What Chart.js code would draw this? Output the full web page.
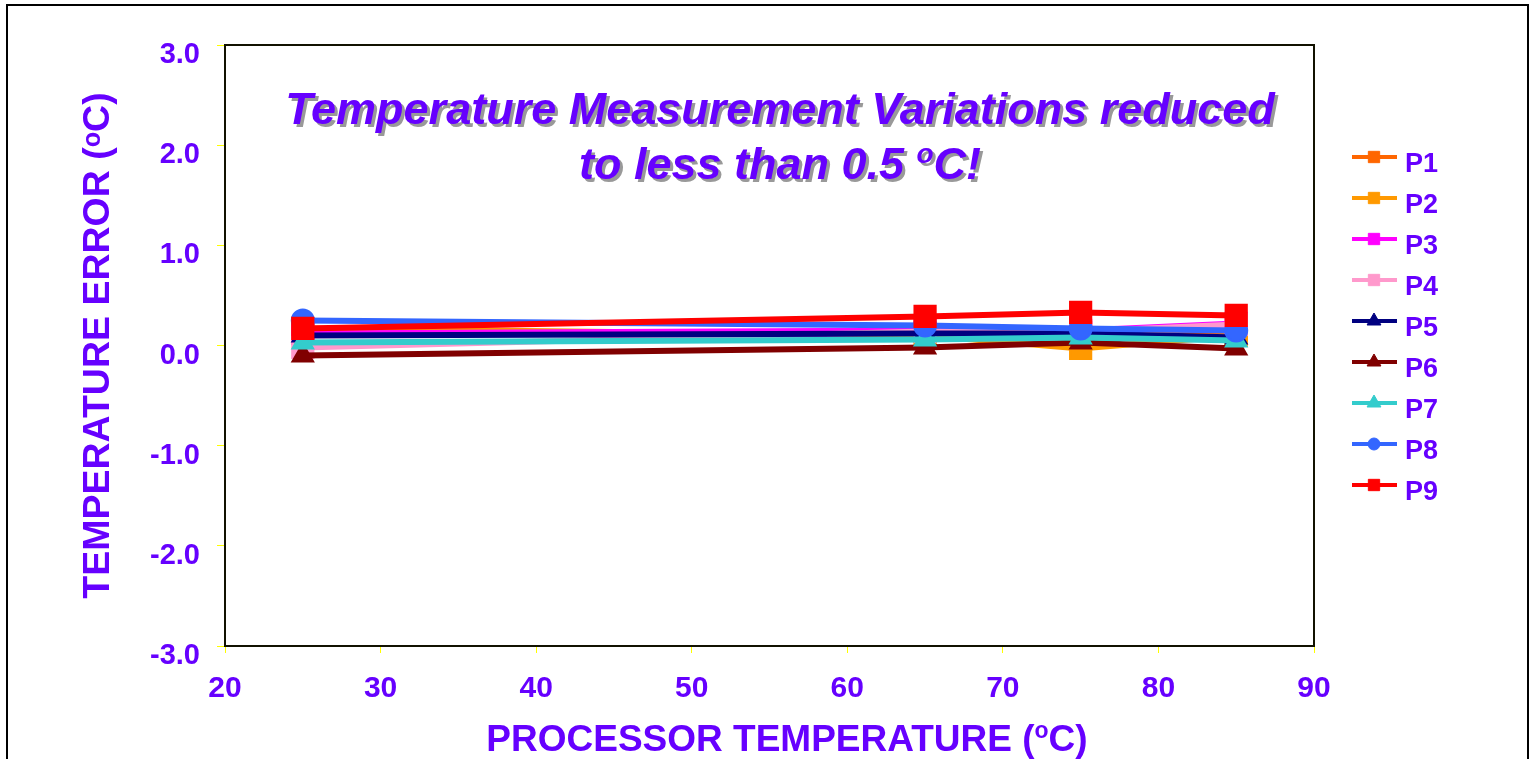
<!DOCTYPE html>
<html>
<head>
<meta charset="utf-8">
<script src="https://cdn.jsdelivr.net/npm/chart.js@4/dist/chart.umd.min.js"></script>
<style>
  body { margin: 0; background: #fff; }
  #wrap { width: 1536px; height: 759px; position: relative; }
</style>
</head>
<body>
<div id="wrap"><canvas id="tempChart"></canvas></div>
<script>
// processor temperature (x) and error per part (y)
const temps = [25, 65, 75, 85];
const p1 = [0.12, 0.14, 0.13, 0.12];
const p2 = [0.17, 0.10, -0.03, 0.10];
const p3 = [0.12, 0.15, 0.15, 0.22];
const p4 = [-0.02, 0.14, 0.14, 0.21];
const p5 = [0.10, 0.12, 0.12, 0.08];
const p6 = [-0.10, -0.02, 0.03, -0.03];
const p7 = [0.03, 0.06, 0.08, 0.05];
const p8 = [0.25, 0.20, 0.17, 0.15];
const p9 = [0.17, 0.29, 0.33, 0.30];
const seriesNames = ['P1', 'P2', 'P3', 'P4', 'P5', 'P6', 'P7', 'P8', 'P9'];
const seriesValues = [p1, p2, p3, p4, p5, p6, p7, p8, p9];
const yTicks = [-3, -2, -1, 0, 1, 2, 3];
const xTicks = [20, 30, 40, 50, 60, 70, 80, 90];
const titleLines = ['Temperature Measurement Variations reduced', 'to less than 0.5 ', 'o', 'C!'];
const xTitle = ['PROCESSOR TEMPERATURE (', 'o', 'C)'];

const colors = ['#FF6600', '#FF9900', '#FF00FF', '#FF99CC', '#000080', '#800000', '#33CCCC', '#3366FF', '#FF0000'];
const styles = ['rect', 'rect', 'rect', 'rect', 'triangle', 'triangle', 'triangle', 'circle', 'rect'];
const bigRadius = { rect: 15, triangle: 12, circle: 11 };
const smallRadius = { rect: 8, triangle: 8, circle: 6 };
const purple = '#6600FF';
const font = 'Arial, "Liberation Sans", sans-serif';

const datasets = seriesValues.map((vals, i) => ({
    label: seriesNames[i],
    data: temps.map((t, j) => ({ x: t, y: vals[j] })),
    borderColor: colors[i],
    backgroundColor: colors[i],
    borderWidth: 6,
    pointStyle: styles[i],
    pointRadius: bigRadius[styles[i]],
    pointHoverRadius: bigRadius[styles[i]],
    pointBorderWidth: 2,
    order: 9 - i
}));

// draws text pieces side by side, the middle piece small and raised
function drawParts(ctx, parts, cx, y, style, size, shadow) {
    const sizes = [size, Math.round(size * 0.62), size];
    const widths = parts.map((p, k) => {
        ctx.font = style + ' ' + sizes[k] + 'px ' + font;
        return ctx.measureText(p).width;
    });
    let x = cx - widths.reduce((s, w) => s + w, 0) / 2;
    parts.forEach((p, k) => {
        ctx.font = style + ' ' + sizes[k] + 'px ' + font;
        const dy = k === 1 ? -Math.round(size * 0.36) : 0;
        if (shadow) {
            ctx.fillStyle = '#999999';
            ctx.fillText(p, x + 3, y + dy + 3);
        }
        ctx.fillStyle = purple;
        ctx.fillText(p, x, y + dy);
        x += widths[k];
    });
}

const framePlugin = {
    id: 'frame',
    beforeDraw(chart) {
        const ctx = chart.ctx;
        ctx.save();
        ctx.strokeStyle = '#000';
        ctx.lineWidth = 2;
        ctx.strokeRect(7, 5, 1521, 800);
        ctx.restore();
    },
    afterDraw(chart) {
        const ctx = chart.ctx;
        const a = chart.chartArea;
        ctx.save();
        // plot frame
        ctx.strokeStyle = '#111100';
        ctx.lineWidth = 2;
        ctx.strokeRect(a.left, a.top, a.right - a.left, a.bottom - a.top);

        ctx.textAlign = 'left';
        ctx.textBaseline = 'alphabetic';
        drawParts(ctx, [titleLines[0]], 780, 124, 'italic bold', 45, true);
        drawParts(ctx, titleLines.slice(1), 780, 179, 'italic bold', 45, true);
        drawParts(ctx, xTitle, 787, 751, 'bold', 37, false);

        // legend: line with marker
        chart.data.datasets.forEach((ds, i) => {
            const y = 157 + i * 41;
            ctx.strokeStyle = ds.borderColor;
            ctx.fillStyle = ds.backgroundColor;
            ctx.lineWidth = 4;
            ctx.beginPath();
            ctx.moveTo(1352, y);
            ctx.lineTo(1397, y);
            ctx.stroke();
            ctx.lineWidth = 1;
            Chart.helpers.drawPoint(ctx, {
                pointStyle: ds.pointStyle,
                radius: smallRadius[ds.pointStyle],
                rotation: 0,
                borderWidth: 1
            }, 1374, y);
            ctx.fillStyle = purple;
            ctx.font = 'bold 27px ' + font;
            ctx.textAlign = 'left';
            ctx.textBaseline = 'middle';
            ctx.fillText(ds.label, 1405, y + 8);
        });
        ctx.restore();
    }
};

new Chart(document.getElementById('tempChart'), {
    type: 'line',
    data: { datasets: datasets },
    plugins: [framePlugin],
    options: {
        responsive: true,
        maintainAspectRatio: false,
        animation: false,
        layout: { padding: { left: 0, top: 45, right: 222, bottom: 0 } },
        plugins: { legend: { display: false }, tooltip: { enabled: false } },
        scales: {
            x: {
                type: 'linear',
                min: xTicks[0],
                max: xTicks[xTicks.length - 1],
                afterBuildTicks: s => { s.ticks = xTicks.map(v => ({ value: v })); },
                afterFit: s => { s.height = 113; },
                grid: { drawOnChartArea: false, drawTicks: true, tickLength: 7, color: '#FFFF00' },
                border: { color: '#111100', width: 2 },
                ticks: { color: purple, font: { family: font, size: 30, weight: 'bold' }, padding: 18, maxRotation: 0 },
                title: { display: false }
            },
            y: {
                min: yTicks[0],
                max: yTicks[yTicks.length - 1],
                afterBuildTicks: s => { s.ticks = yTicks.map(v => ({ value: v })); },
                afterFit: s => { s.width = 225; },
                grid: { drawOnChartArea: false, drawTicks: true, tickLength: 8, color: '#FFFF00' },
                border: { color: '#111100', width: 2 },
                ticks: {
                    color: purple,
                    font: { family: font, size: 29, weight: 'bold' },
                    padding: 17,
                    labelOffset: 10,
                    callback: v => v.toFixed(1)
                },
                title: {
                    display: true,
                    text: 'TEMPERATURE ERROR (ᵒC)',
                    color: purple,
                    font: { family: font, size: 37.5, weight: 'bold' },
                    padding: { top: 76, bottom: 0 }
                }
            }
        }
    }
});
</script>
</body>
</html>
